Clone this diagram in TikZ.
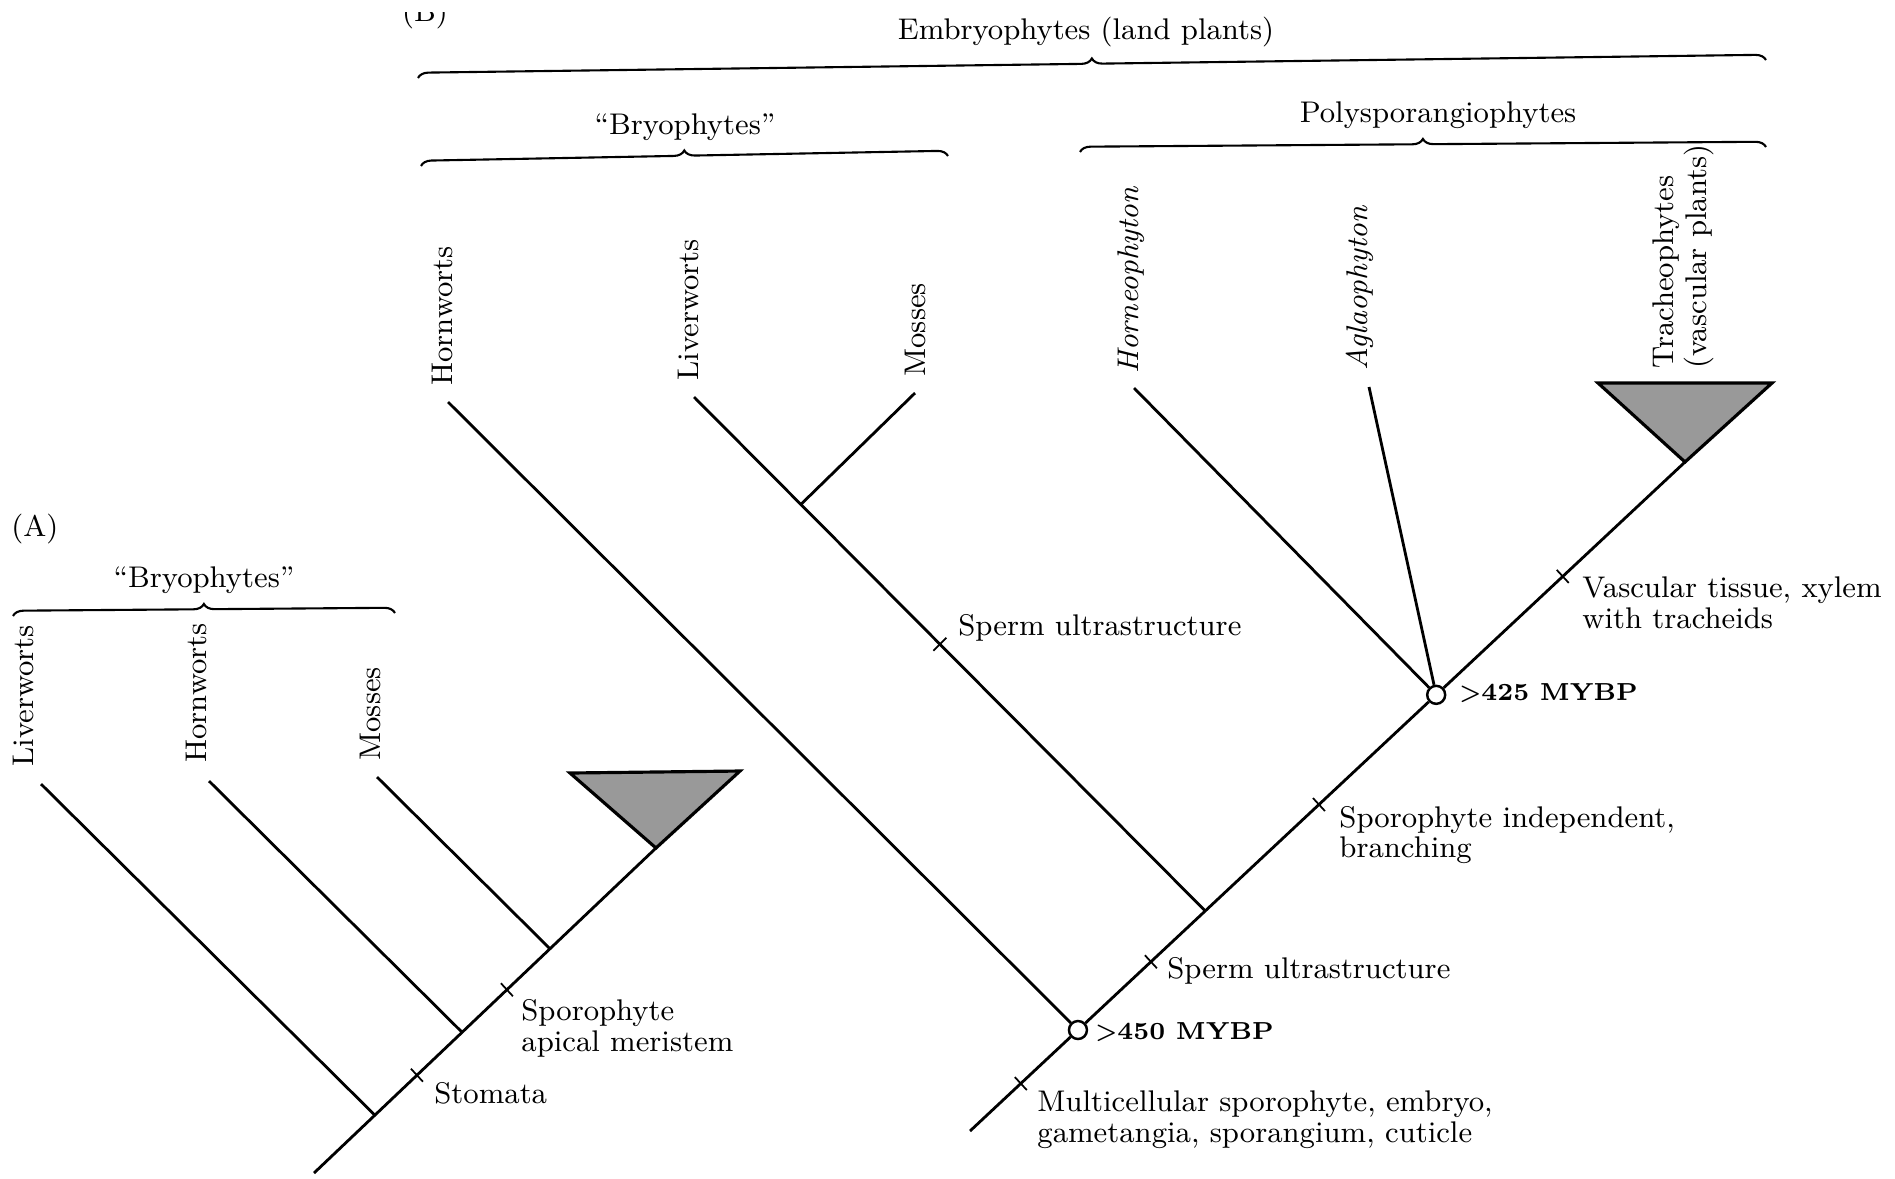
\documentclass[tikz,border=0pt]{standalone}
\usetikzlibrary{positioning,calc,decorations.pathreplacing}

\begin{document}
\begin{tikzpicture}[
  x=0.01cm, y=-0.01cm,
  line width=0.8pt,
  font=\fontsize{8.5}{8.8}\selectfont,
  taxon/.style={rotate=90,anchor=west,inner sep=0pt,align=left},
  trait/.style={anchor=west,inner sep=0pt,align=left},
  age/.style={anchor=west,inner sep=0pt,font=\fontsize{7}{8}\selectfont\bfseries},
  group/.style={inner sep=0pt},
  clade/.style={decorate,decoration={brace,amplitude=3pt},line width=0.6pt},
  dated/.style={draw,circle,fill=white,inner sep=0pt,minimum size=0.18cm,line width=0.7pt},
  collapsed/.style={draw,fill=black!40,line width=0.9pt,line join=miter},
  synapo/.style={line width=0.5pt}
  ]
  % Page
  \useasboundingbox (0,0) rectangle (1895,1178);
  \clip (0,0) rectangle (1895,1178);

  % ---------------- (A) ----------------
  \node[trait] (labA) at (10,529) {(A)};
  \draw[clade] (13,616) -- (395,613);
  \node[group] (bryoA) at (204,580) {``Bryophytes''};
  % Stem
  \coordinate (rootA) at (314,1173);
  \coordinate (apexA) at (656,848);
  \coordinate (jA1) at ($(rootA)!0.178!(apexA)$);
  \coordinate (jA2) at ($(rootA)!0.433!(apexA)$);
  \coordinate (jA3) at ($(rootA)!0.690!(apexA)$);
  \coordinate (sA1) at ($(rootA)!0.301!(apexA)$);
  \coordinate (sA2) at ($(rootA)!0.564!(apexA)$);
  \draw[collapsed] (apexA) -- (570,773) -- (740,771) -- cycle;
  \draw (rootA) -- (apexA);
  % Taxa
  \node[taxon] (livA)  at (23,768)  {Liverworts};
  \node[taxon] (hornA) at (196,764) {Hornworts};
  \node[taxon] (mossA) at (370,762) {Mosses};
  \coordinate (livAtip)  at (41,784);
  \coordinate (hornAtip) at (209,781);
  \coordinate (mossAtip) at (377,777);
  \draw (livAtip) -- (jA1);
  \draw (hornAtip) -- (jA2);
  \draw (mossAtip) -- (jA3);
  % Characters
  \node[trait] (stomata) at (433,1093) {Stomata};
  \node[trait] (meristem) at (520,1028) {Sporophyte\\apical meristem};

  % ---------------- (B) ----------------
  % panel letter, upper half cut off by the page edge
  \begin{scope}
    \clip (380,12) rectangle (480,40);
    \node[anchor=base,inner sep=0pt] (labB) at (425,21) {(B)};
  \end{scope}
  \draw[clade] (418,78) -- (1766,60);
  \node[group] (embryo) at (1086,32) {Embryophytes (land plants)};
  \draw[clade] (421,166) -- (948,156);
  \node[group] (bryoB) at (685,127) {``Bryophytes''};
  \draw[clade] (1080,152) -- (1766,147);
  \node[group] (poly) at (1438,115) {Polysporangiophytes};
  % Stem
  \coordinate (rootB) at (970,1131);
  \coordinate (apexB) at (1685,462);
  \coordinate (jB1) at ($(rootB)!0.329!(apexB)$);
  \coordinate (sB1) at ($(rootB)!0.071!(apexB)$);
  \coordinate (sB2) at ($(rootB)!0.253!(apexB)$);
  \coordinate (sB3) at ($(rootB)!0.488!(apexB)$);
  \coordinate (sB4) at ($(rootB)!0.829!(apexB)$);
  \draw[collapsed] (apexB) -- (1598,383) -- (1772,383) -- cycle;
  \node[dated] (n450) at ($(rootB)!0.151!(apexB)$) {};
  \node[dated] (n425) at ($(rootB)!0.652!(apexB)$) {};
  \draw (rootB) -- (n450) -- (n425) -- (apexB);
  % Taxa
  \node[taxon] (hornB)   at (442,387)  {Hornworts};
  \node[taxon] (livB)    at (688,382)  {Liverworts};
  \node[taxon] (mossB)   at (915,378)  {Mosses};
  \node[taxon] (horneo)  at (1131,375) {\itshape Horneophyton};
  \node[taxon] (aglao)   at (1360,372) {\itshape Aglaophyton};
  \node[taxon,font=\fontsize{8.5}{9.3}\selectfont] (trach) at (1683,370) {Tracheophytes\\(vascular plants)};
  \coordinate (hornBtip)  at (448,402);
  \coordinate (livBtip)   at (694,397);
  \coordinate (mossBtip)  at (915,393);
  \coordinate (horneoTip) at (1134,388);
  \coordinate (aglaoTip)  at (1369,387);
  \coordinate (jB2) at ($(livBtip)!0.209!(jB1)$);
  \coordinate (sB5) at ($(livBtip)!0.481!(jB1)$);
  \draw (hornBtip) -- (n450);
  \draw (livBtip) -- (jB1);
  \draw (mossBtip) -- (jB2);
  \draw (horneoTip) -- (n425);
  \draw (aglaoTip) -- (n425);
  % Ages
  \node[age] (age450) at (1094,1032) {>450 MYBP};
  \node[age] (age425) at (1458,693)  {>425 MYBP};
  % Characters
  \node[trait] (multi)  at (1036,1120) {Multicellular sporophyte, embryo,\\gametangia, sporangium, cuticle};
  \node[trait] (sperm1) at (1166,971)  {Sperm ultrastructure};
  \node[trait] (indep)  at (1338,835)  {Sporophyte independent,\\branching};
  \node[trait] (vasc)   at (1581,603)  {Vascular tissue, xylem\\with tracheids};
  \node[trait] (sperm2) at (957,628)   {Sperm ultrastructure};

  % Ticks across the stems
  \foreach \t in {sA1,sA2,sB1,sB2,sB3,sB4}
    \draw[synapo] ($(\t)+(-6,-6.5)$) -- ($(\t)+(6,6.5)$);
  \draw[synapo] ($(sB5)+(-6.5,6.5)$) -- ($(sB5)+(6.5,-6.5)$);
\end{tikzpicture}
\end{document}
